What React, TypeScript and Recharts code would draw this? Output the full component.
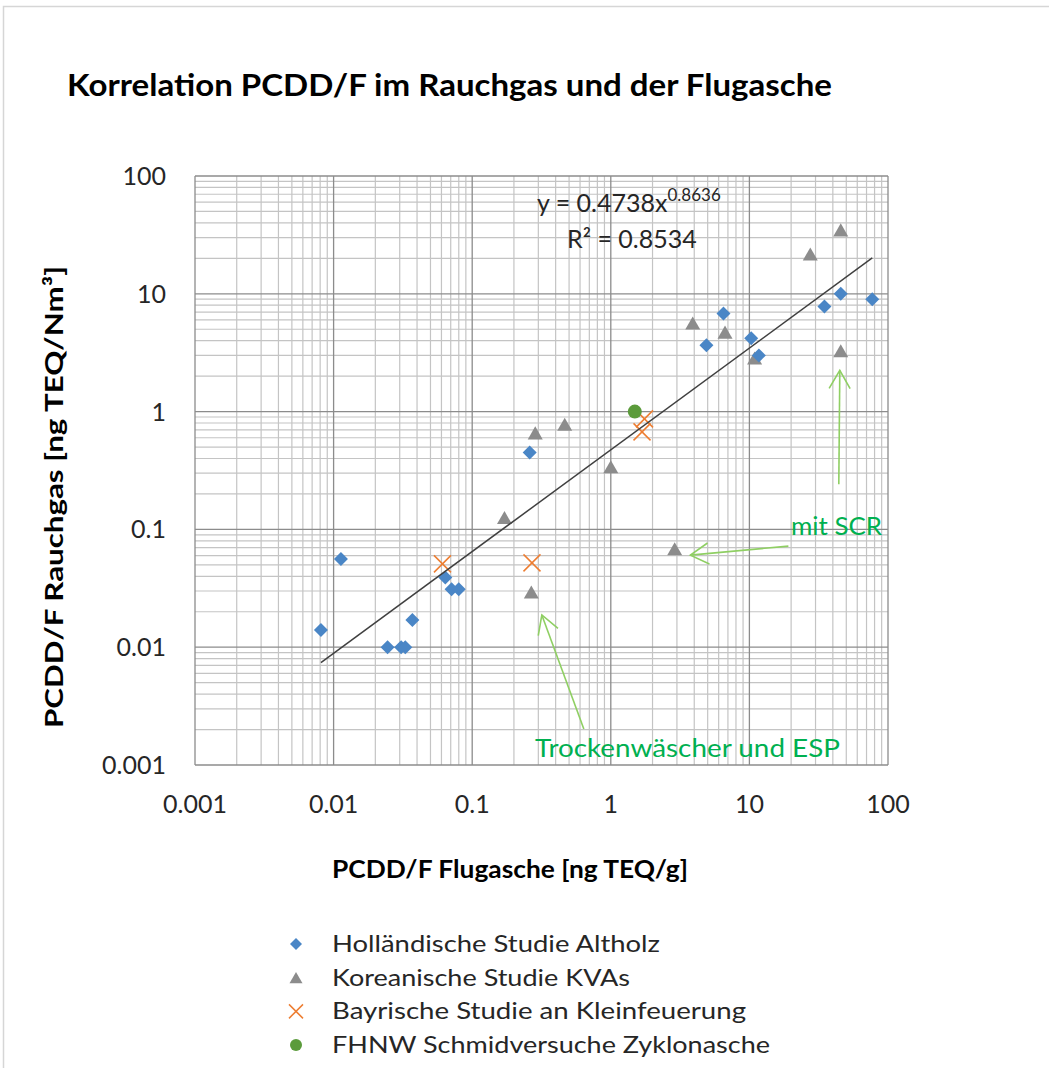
import React from 'react';
import { ScatterChart, Scatter, XAxis, YAxis, ReferenceLine, ReferenceDot } from 'recharts';

const FONT = 'Lato, "Noto Sans", sans-serif';

// PCDD/F in fly ash [ng TEQ/g] (x) vs. flue gas [ng TEQ/Nm3] (y)
const HOLLAND = [
    { x: 0.0081, y: 0.014 },
    { x: 0.0113, y: 0.056 },
    { x: 0.0245, y: 0.01 },
    { x: 0.0307, y: 0.01 },
    { x: 0.0329, y: 0.01 },
    { x: 0.037, y: 0.017 },
    { x: 0.064, y: 0.039 },
    { x: 0.071, y: 0.031 },
    { x: 0.08, y: 0.031 },
    { x: 0.26, y: 0.45 },
    { x: 4.9, y: 3.65 },
    { x: 6.5, y: 6.8 },
    { x: 10.3, y: 4.2 },
    { x: 11.7, y: 3.0 },
    { x: 34.8, y: 7.8 },
    { x: 45.6, y: 10 },
    { x: 77, y: 9.0 },
];

const KOREA = [
    { x: 0.171, y: 0.126 },
    { x: 0.267, y: 0.0294 },
    { x: 0.285, y: 0.66 },
    { x: 0.465, y: 0.78 },
    { x: 1.0, y: 0.34 },
    { x: 2.89, y: 0.0686 },
    { x: 3.9, y: 5.65 },
    { x: 6.67, y: 4.73 },
    { x: 10.9, y: 2.85 },
    { x: 27.5, y: 21.8 },
    { x: 45.6, y: 34.9 },
    { x: 45.6, y: 3.29 },
];

const BAYERN = [
    { x: 0.061, y: 0.051 },
    { x: 0.27, y: 0.052 },
    { x: 1.75, y: 0.867 },
    { x: 1.68, y: 0.673 },
];

const FHNW = [{ x: 1.49, y: 1.0 }];

// power trendline y = a * x^b
const FIT_A = 0.4738;
const FIT_B = 0.8636;
const FIT_R2 = 0.8534;
const FIT_X_RANGE = [0.0081, 77];

const AXIS_TICKS = [0.001, 0.01, 0.1, 1, 10, 100];

const FIT_LINE = FIT_X_RANGE.map(x => ({ x, y: FIT_A * Math.pow(x, FIT_B) }));

// minor grid at 2..9 of each decade
const MINOR_GRID = AXIS_TICKS.slice(0, -1).flatMap(d =>
    [2, 3, 4, 5, 6, 7, 8, 9].map(m => Number((d * m).toPrecision(3)))
);

const BLUE = '#4A86C6';
const GRAY = '#8C8C8C';
const ORANGE = '#ED7D31';
const GREEN = '#5B9B3B';
const NOTE_GREEN = '#00B050';
const ARROW_GREEN = '#8FCF63';

const Diamond = ({ cx, cy, s = 7 }: any) => (
    <path d={`M${cx},${cy - s}L${cx + s},${cy}L${cx},${cy + s}L${cx - s},${cy}Z`} fill={BLUE} />
);

const Triangle = ({ cx, cy, s = 7.5 }: any) => (
    <path d={`M${cx},${cy - s * 0.87}L${cx + s},${cy + s * 0.87}L${cx - s},${cy + s * 0.87}Z`} fill={GRAY} />
);

const Cross = ({ cx, cy, s = 8.5 }: any) => (
    <g stroke={ORANGE} strokeWidth={1.5}>
        <line x1={cx - s} y1={cy - s} x2={cx + s} y2={cy + s} />
        <line x1={cx - s} y1={cy + s} x2={cx + s} y2={cy - s} />
    </g>
);

const Dot = ({ cx, cy, s = 7 }: any) => <circle cx={cx} cy={cy} r={s} fill={GREEN} />;

// arrow with its tip on the anchor point, tail offset by (dx, dy)
const Arrow = ({ cx, cy, dx, dy }: any) => {
    const len = Math.hypot(dx, dy);
    const ux = dx / len;
    const uy = dy / len;
    const arm = (deg: number) => {
        const a = (deg * Math.PI) / 180;
        return {
            x: cx + 21 * (ux * Math.cos(a) - uy * Math.sin(a)),
            y: cy + 21 * (ux * Math.sin(a) + uy * Math.cos(a)),
        };
    };
    const a1 = arm(30);
    const a2 = arm(-30);
    return (
        <g stroke={ARROW_GREEN} strokeWidth={1.6} fill="none">
            <line x1={cx} y1={cy} x2={cx + dx} y2={cy + dy} />
            <polyline points={`${a1.x},${a1.y} ${cx},${cy} ${a2.x},${a2.y}`} />
        </g>
    );
};

const XTick = ({ x, y, payload }: any) => (
    <text x={x} y={y + 48} textAnchor="middle" fontFamily={FONT} fontSize={25} fill="#262626">
        {String(payload.value)}
    </text>
);

const YTick = ({ x, y, payload }: any) => (
    <text x={x - 29} y={y + 9} textAnchor="end" fontFamily={FONT} fontSize={25} fill="#262626">
        {String(payload.value)}
    </text>
);

const LEGEND = [
    { name: 'Holländische Studie Altholz', shape: 'diamond', width: 328 },
    { name: 'Koreanische Studie KVAs', shape: 'triangle', width: 298 },
    { name: 'Bayrische Studie an Kleinfeuerung', shape: 'cross', width: 414 },
    { name: 'FHNW Schmidversuche Zyklonasche', shape: 'dot', width: 438 },
];

const LegendMarker = ({ shape, cx, cy }: any) => {
    if (shape === 'diamond') return <Diamond cx={cx} cy={cy} s={6} />;
    if (shape === 'triangle') return <Triangle cx={cx} cy={cy} s={6.5} />;
    if (shape === 'cross') return <Cross cx={cx} cy={cy} s={7} />;
    return <Dot cx={cx} cy={cy} s={6} />;
};

export default function App() {
    return (
        <div style={{ position: 'absolute', left: 0, top: 0, width: 1049, height: 1068, background: '#fff' }}>
            <ScatterChart width={1049} height={1068} margin={{ top: 176, right: 161, bottom: 263, left: 135 }}>
                <XAxis
                    type="number"
                    dataKey="x"
                    scale="log"
                    domain={[0.001, 100]}
                    ticks={AXIS_TICKS}
                    interval={0}
                    allowDataOverflow
                    axisLine={false}
                    tickLine={false}
                    tickSize={0}
                    tickMargin={0}
                    height={40}
                    tick={<XTick />}
                />
                <YAxis
                    type="number"
                    dataKey="y"
                    scale="log"
                    domain={[0.001, 100]}
                    ticks={AXIS_TICKS}
                    interval={0}
                    allowDataOverflow
                    axisLine={false}
                    tickLine={false}
                    tickSize={0}
                    tickMargin={0}
                    width={60}
                    tick={<YTick />}
                />

                {MINOR_GRID.map(v => (
                    <ReferenceLine key={`mx${v}`} x={v} stroke="#C4C4C4" strokeWidth={1.2} />
                ))}
                {MINOR_GRID.map(v => (
                    <ReferenceLine key={`my${v}`} y={v} stroke="#C4C4C4" strokeWidth={1.2} />
                ))}
                {AXIS_TICKS.map(v => (
                    <ReferenceLine key={`Mx${v}`} x={v} stroke="#8C8C8C" strokeWidth={1.3} />
                ))}
                {AXIS_TICKS.map(v => (
                    <ReferenceLine key={`My${v}`} y={v} stroke="#8C8C8C" strokeWidth={1.3} />
                ))}

                <Scatter name="Koreanische Studie KVAs" data={KOREA} isAnimationActive={false}
                    shape={(p: any) => <Triangle cx={p.cx} cy={p.cy} />} />
                <Scatter name="Holländische Studie Altholz" data={HOLLAND} isAnimationActive={false}
                    shape={(p: any) => <Diamond cx={p.cx} cy={p.cy} />} />
                <Scatter name="Bayrische Studie an Kleinfeuerung" data={BAYERN} isAnimationActive={false}
                    shape={(p: any) => <Cross cx={p.cx} cy={p.cy} />} />
                <Scatter name="FHNW Schmidversuche Zyklonasche" data={FHNW} isAnimationActive={false}
                    shape={(p: any) => <Dot cx={p.cx} cy={p.cy} />} />
                <Scatter name="Trend" data={FIT_LINE} isAnimationActive={false}
                    line={{ stroke: '#404040', strokeWidth: 1.5 }} shape={() => <g />} />

                {/* annotation arrows */}
                <ReferenceDot x={3.75} y={0.0605} r={0}
                    shape={(p: any) => <Arrow cx={p.cx} cy={p.cy} dx={98} dy={-9} />} />
                <ReferenceDot x={44.9} y={2.24} r={0}
                    shape={(p: any) => <Arrow cx={p.cx} cy={p.cy} dx={-1} dy={114} />} />
                <ReferenceDot x={0.318} y={0.0188} r={0}
                    shape={(p: any) => <Arrow cx={p.cx} cy={p.cy} dx={42} dy={114} />} />
            </ScatterChart>

            <svg width={1049} height={1068}
                style={{ position: 'absolute', left: 0, top: 0, pointerEvents: 'none' }}>
                <rect x={3.5} y={6.5} width={1100} height={1100} fill="none" stroke="#D6D6D6" strokeWidth={1.5} />

                <text x={67} y={96} fontFamily={FONT} fontWeight="bold" fontSize={31} fill="#000"
                    textLength={765} lengthAdjust="spacingAndGlyphs">
                    Korrelation PCDD/F im Rauchgas und der Flugasche
                </text>

                <text x={510} y={878} textAnchor="middle" fontFamily={FONT} fontWeight="bold" fontSize={24}
                    fill="#000" textLength={356} lengthAdjust="spacingAndGlyphs">
                    PCDD/F Flugasche [ng TEQ/g]
                </text>
                <text transform="translate(63,497) rotate(-90)" textAnchor="middle" fontFamily={FONT}
                    fontWeight="bold" fontSize={24} fill="#000" textLength={462} lengthAdjust="spacingAndGlyphs">
                    PCDD/F Rauchgas [ng TEQ/Nm³]
                </text>

                <text x={537} y={212} fontFamily={FONT} fontSize={25} fill="#262626">
                    {`y = ${FIT_A}x`}
                    <tspan fontSize={17} dy={-11}>{String(FIT_B)}</tspan>
                </text>
                <text x={567} y={248} fontFamily={FONT} fontSize={25} fill="#262626">
                    {`R² = ${FIT_R2}`}
                </text>

                <text x={791} y={535} fontFamily={FONT} fontSize={25} fill={NOTE_GREEN}
                    textLength={91} lengthAdjust="spacingAndGlyphs">
                    mit SCR
                </text>
                <text x={535} y={757} fontFamily={FONT} fontSize={25} fill={NOTE_GREEN}
                    textLength={305} lengthAdjust="spacingAndGlyphs">
                    Trockenwäscher und ESP
                </text>

                {LEGEND.map((item, i) => {
                    const base = 952 + i * 33.7;
                    return (
                        <g key={item.name}>
                            <LegendMarker shape={item.shape} cx={296} cy={base - 8} />
                            <text x={332} y={base} fontFamily={FONT} fontSize={24} fill="#262626"
                                textLength={item.width} lengthAdjust="spacingAndGlyphs">
                                {item.name}
                            </text>
                        </g>
                    );
                })}
            </svg>
        </div>
    );
}
